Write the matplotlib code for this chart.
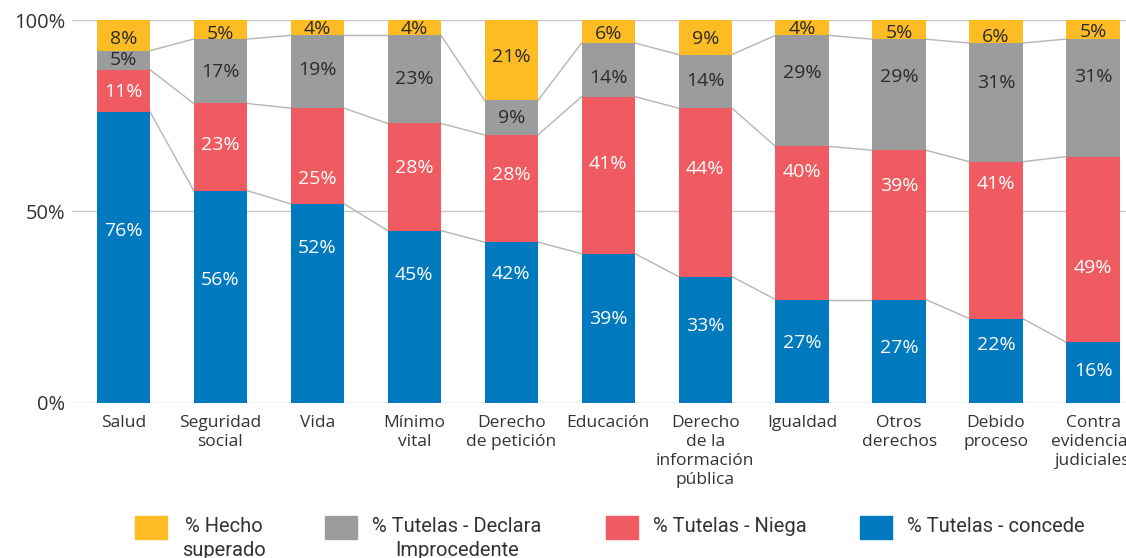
import numpy as np
import matplotlib.pyplot as plt
from matplotlib.patches import Rectangle

categorias = ['Salud', 'Seguridad\nsocial', 'Vida', 'Mínimo\nvital', 'Derecho\nde petición',
              'Educación', 'Derecho\nde la\ninformación\npública', 'Igualdad', 'Otros\nderechos',
              'Debido\nproceso', 'Contra\nevidencias\njudiciales']
concede = [76, 56, 52, 45, 42, 39, 33, 27, 27, 22, 16]
niega = [11, 23, 25, 28, 28, 41, 44, 40, 39, 41, 49]
improcedente = [5, 17, 19, 23, 9, 14, 14, 29, 29, 31, 31]
hecho_superado = [8, 5, 4, 4, 21, 6, 9, 4, 5, 6, 5]

series = [concede, niega, improcedente, hecho_superado]
nombres = ['% Tutelas - concede', '% Tutelas - Niega',
           '% Tutelas - Declara\nImprocedente', '% Hecho\nsuperado']
colores = ['#0079BF', '#F05A61', '#9A9C9D', '#FDBC24']
color_txt = ['white', 'white', '#2b2b2b', '#2b2b2b']

# altura de cada etiqueta dentro de su segmento (0 = base, 1 = tope), como en el original
pos_etiq = [
    [0.59, 0.58, 0.78, 0.74, 0.80, 0.56, 0.61, 0.58, 0.53, 0.69, 0.52],
    [0.48, 0.52, 0.26, 0.58, 0.63, 0.57, 0.64, 0.83, 0.76, 0.86, 0.40],
    [0.53, 0.49, 0.53, 0.50, 0.50, 0.35, 0.50, 0.66, 0.66, 0.66, 0.68],
    [0.39, 0.25, 0.40, 0.40, 0.54, 0.38, 0.44, 0.44, 0.32, 0.25, 0.35],
]

plt.rcParams['font.family'] = ['Open Sans', 'DejaVu Sans']

W, H = 1126, 558
fig = plt.figure(figsize=(W / 100, H / 100), dpi=100)
ax = fig.add_axes([0.064, 0.278, 0.936, 0.686])

data = np.array(series, dtype=float)
data = data / data.sum(axis=0) * 100
x = np.arange(len(categorias))
w = 0.55

bottom = np.zeros(len(categorias))
for k in range(4):
    ax.bar(x, data[k], w, bottom=bottom, color=colores[k], zorder=3)
    for i in range(len(x)):
        ax.text(x[i], bottom[i] + data[k][i] * pos_etiq[k][i], '%d%%' % series[k][i],
                ha='center', va='center', fontsize=14, color=color_txt[k], zorder=4)
    bottom = bottom + data[k]

# lineas de serie entre barras
cum = np.cumsum(data, axis=0)
for k in range(3):
    for i in range(len(x) - 1):
        ax.plot([x[i] + w / 2, x[i + 1] - w / 2], [cum[k][i], cum[k][i + 1]],
                color='#b5b5b5', lw=1, zorder=2)

ax.set_xlim(-0.53, 10.34)
ax.set_ylim(0, 100)
ax.set_yticks([0, 50, 100])
ax.set_yticklabels(['0%', '50%', '100%'], fontsize=14.5, color='#333333')
ax.set_xticks(x)
ax.set_xticklabels(categorias, fontsize=12.5, color='#333333', linespacing=1.23)
ax.tick_params(axis='both', length=0)
ax.tick_params(axis='y', pad=5)
ax.tick_params(axis='x', pad=9)
ax.grid(axis='y', color='#c8c8c8', lw=1, zorder=0)
for s in ax.spines.values():
    s.set_visible(False)

# leyenda (cuadro alineado con la primera linea del texto)
orden = [3, 2, 1, 0]
leg_x = [135, 325, 606, 860]
for px, k in zip(leg_x, orden):
    fig.add_artist(Rectangle((px / W, 1 - 539 / H), 32 / W, 23 / H,
                             transform=fig.transFigure, color=colores[k]))
    fig.text((px + 47) / W, 1 - 517 / H, nombres[k], ha='left', va='top',
             multialignment='center', linespacing=1.3, fontsize=14.5,
             family=['Roboto', 'DejaVu Sans'], color='#333333')

fig.savefig('out.png', dpi=100)
